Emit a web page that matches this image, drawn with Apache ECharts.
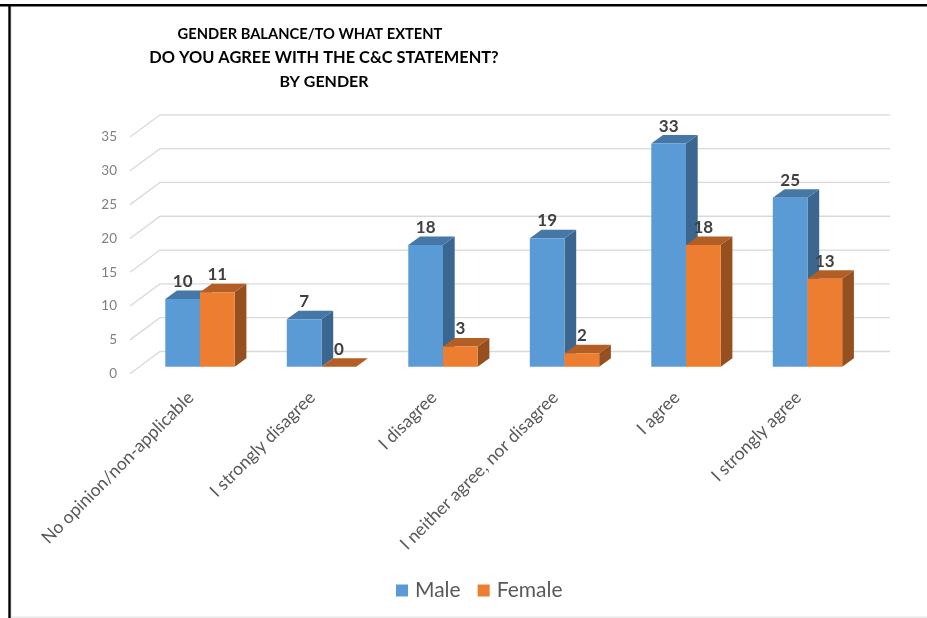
<!DOCTYPE html>
<html>
<head>
<meta charset="utf-8">
<style>html,body{margin:0;padding:0;background:#fff}#c{width:927px;height:618px}</style>
<script src="https://cdn.jsdelivr.net/npm/echarts@6/dist/echarts.min.js"></script>
</head>
<body>
<div id="c"></div>
<script>
const titleLines = ['GENDER BALANCE/TO WHAT EXTENT', 'DO YOU AGREE WITH THE C&C STATEMENT?', 'BY GENDER'];
const categories = ['No opinion/non-applicable', 'I strongly disagree', 'I disagree', 'I neither agree, nor disagree', 'I agree', 'I strongly agree'];
const male = [10, 7, 18, 19, 33, 25];
const female = [11, 0, 3, 2, 18, 13];
const ticks = [0, 5, 10, 15, 20, 25, 30, 35];

const FONT = 'Lato';
const wallDX = 30, wallDY = 22.2, backRight = 890;
const planeDX = 9.25, planeDY = 7;
const barW = 34.7, depthDX = 11.7, depthDY = 8.5;

function wallItem(params, api) {
  const p = api.coord([0, api.value(1)]);
  const x0 = params.coordSys.x;
  const y = p[1];
  return {
    type: 'polyline',
    silent: true,
    shape: { points: [[x0, y], [x0 + wallDX, y - wallDY], [backRight, y - wallDY]] },
    style: { stroke: '#D9D9D9', lineWidth: 1.3, fill: 'none' }
  };
}

function barRenderer(side, front, top, right) {
  return function (params, api) {
    const v = api.value(1);
    const c = api.coord([api.value(0), v]);
    const b = api.coord([api.value(0), 0]);
    const cx = c[0] + planeDX;
    const x0 = side < 0 ? cx - barW : cx;
    const x1 = x0 + barW;
    const yT = c[1] - planeDY, yB = b[1] - planeDY;
    return {
      type: 'group',
      children: [
        { type: 'polygon', shape: { points: [[x1, yT], [x1 + depthDX, yT - depthDY], [x1 + depthDX, yB - depthDY], [x1, yB]] }, style: { fill: right } },
        { type: 'polygon', shape: { points: [[x0, yT], [x0 + depthDX, yT - depthDY], [x1 + depthDX, yT - depthDY], [x1, yT]] }, style: { fill: top } },
        { type: 'rect', shape: { x: x0, y: yT, width: barW, height: yB - yT }, style: { fill: front } },
        { type: 'text', z2: 10, style: { x: (x0 + x1) / 2, y: yT - 17.5, text: String(v), align: 'center', verticalAlign: 'middle', font: 'bold 17px ' + FONT, fill: '#404040' } }
      ]
    };
  };
}

const titleStyle = size => ({ fontFamily: FONT, fontSize: size, fontWeight: 'bold', color: '#000' });

const chart = echarts.init(document.getElementById('c'), null, { renderer: 'canvas' });
chart.setOption({
  animation: false,
  backgroundColor: '#fff',
  title: [
    { text: titleLines[0], left: 310, top: 27, padding: 0, textAlign: 'center', textStyle: titleStyle(14.7) },
    { text: titleLines[1], left: 324, top: 50, padding: 0, textAlign: 'center', textStyle: titleStyle(16.4) },
    { text: titleLines[2], left: 324, top: 74, padding: 0, textAlign: 'center', textStyle: titleStyle(16) }
  ],
  legend: {
    data: ['Male', 'Female'],
    left: 391, top: 575,
    icon: 'rect', itemWidth: 12, itemHeight: 12, itemGap: 17,
    selectedMode: false,
    textStyle: { fontFamily: FONT, fontSize: 21, color: '#595959', padding: [0, 0, 0, 2] }
  },
  grid: { left: 130, top: 137, width: 729, height: 236.7 },
  xAxis: {
    type: 'category', data: categories,
    axisLine: { show: false }, axisTick: { show: false }, splitLine: { show: false },
    axisLabel: { interval: 0, rotate: 45, margin: 21, color: '#595959', fontFamily: FONT, fontSize: 17.6 }
  },
  yAxis: {
    type: 'value', min: 0, max: 35, interval: 5,
    axisLine: { show: false }, axisTick: { show: false }, splitLine: { show: false },
    axisLabel: { margin: 13, color: '#7F7F7F', fontFamily: FONT, fontSize: 13.5, padding: [4, 0, 0, 0] }
  },
  graphic: [
    { type: 'rect', silent: true, z: 100, shape: { x: 0, y: 4, width: 927, height: 2.6 }, style: { fill: '#000' } },
    { type: 'rect', silent: true, z: 100, shape: { x: 8.3, y: 4, width: 2.4, height: 614 }, style: { fill: '#000' } },
    { type: 'rect', silent: true, z: 99, shape: { x: 10.7, y: 6.6, width: 1, height: 611 }, style: { fill: '#E4E4E4' } },
    { type: 'rect', silent: true, z: 99, shape: { x: 10.7, y: 616.6, width: 916.3, height: 1.4 }, style: { fill: '#E8E8E8' } }
  ],
  series: [
    { type: 'custom', name: 'walls', silent: true, clip: false, z: 1, renderItem: wallItem, data: ticks.map(t => [0, t]), encode: { x: 0, y: 1 } },
    { type: 'custom', name: 'Male', clip: false, z: 2, itemStyle: { color: '#5B9BD5' }, renderItem: barRenderer(-1, '#5B9BD5', '#4678A7', '#3A6690'), data: male.map((v, i) => [i, v]), encode: { x: 0, y: 1 } },
    { type: 'custom', name: 'Female', clip: false, z: 3, itemStyle: { color: '#ED7D31' }, renderItem: barRenderer(1, '#ED7D31', '#B35E25', '#964F1F'), data: female.map((v, i) => [i, v]), encode: { x: 0, y: 1 } }
  ]
});
</script>
</body>
</html>
